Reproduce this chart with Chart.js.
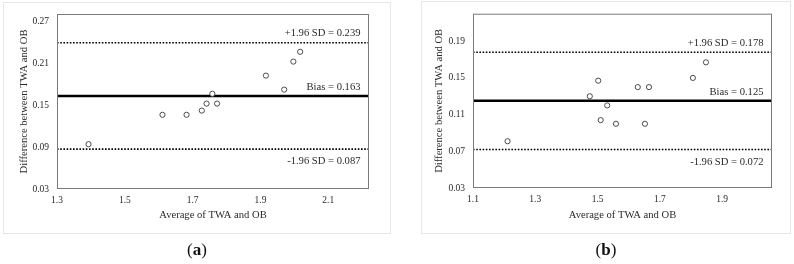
<!DOCTYPE html>
<html>
<head>
<meta charset="utf-8">
<script src="https://cdn.jsdelivr.net/npm/chart.js@4/dist/chart.umd.min.js"></script>
<style>
  html, body { margin: 0; padding: 0; background: #fff; }
  #wrap { position: relative; width: 794px; height: 264px; }
  .pane { position: absolute; top: 0; width: 397px; height: 264px; }
</style>
</head>
<body>
<div id="wrap">
  <div class="pane" style="left:0"><canvas id="ca"></canvas></div>
  <div class="pane" style="left:397px"><canvas id="cb"></canvas></div>
</div>
<script>
// ---- Panel (a) data ----
const avgA   = [1.393, 1.611, 1.682, 1.727, 1.741, 1.758, 1.772, 1.916, 1.970, 1.997, 2.017];
const diffA  = [0.094, 0.136, 0.136, 0.142, 0.152, 0.166, 0.152, 0.192, 0.172, 0.212, 0.226];
const limitsA = [0.239, 0.163, 0.087];           // +1.96 SD, bias, -1.96 SD
const xTicksA = [1.3, 1.5, 1.7, 1.9, 2.1];
const yTicksA = [0.03, 0.09, 0.15, 0.21, 0.27];
const xRangeA = [1.3, 2.22];
const yRangeA = [0.03, 0.28];

// ---- Panel (b) data ----
const avgB   = [1.211, 1.475, 1.502, 1.510, 1.531, 1.559, 1.629, 1.652, 1.665, 1.806, 1.848];
const diffB  = [0.081, 0.130, 0.147, 0.104, 0.120, 0.100, 0.140, 0.100, 0.140, 0.150, 0.167];
const limitsB = [0.178, 0.125, 0.072];
const xTicksB = [1.1, 1.3, 1.5, 1.7, 1.9];
const yTicksB = [0.03, 0.07, 0.11, 0.15, 0.19];
const xRangeB = [1.1, 2.06];
const yRangeB = [0.03, 0.22];

const limitNames = ['+1.96 SD', 'Bias', '-1.96 SD'];
const xTitle = 'Average of TWA and OB';
const yTitle = 'Difference between TWA and OB';

const SERIF = '"Liberation Serif", "DejaVu Serif", serif';
const TXT = '#2a2a2a';

function makeChart(id, cfg) {
  const pts = cfg.avg.map((x, i) => ({ x: x, y: cfg.diff[i] }));
  const lineDs = cfg.limits.map((v, i) => ({
    type: 'line',
    data: [{ x: cfg.xRange[0], y: v }, { x: cfg.xRange[1], y: v }],
    borderColor: '#000',
    borderWidth: i === 1 ? 2.5 : 1.6,
    borderDash: i === 1 ? [] : [1.6, 1.6],
    pointRadius: 0,
    fill: false,
    order: 2
  }));

  const framePlugin = {
    id: 'frame' + id,
    beforeDatasetsDraw(chart) {
      const ctx = chart.ctx, a = chart.chartArea;
      ctx.save();
      // outer panel frame
      ctx.strokeStyle = '#e6e6e6';
      ctx.lineWidth = 1;
      ctx.strokeRect(cfg.outer[0], cfg.outer[1], cfg.outer[2], cfg.outer[3]);
      ctx.restore();
    },
    afterDatasetsDraw(chart) {
      const ctx = chart.ctx, a = chart.chartArea;
      const xs = chart.scales.x, ys = chart.scales.y;
      ctx.save();
      // plot frame
      ctx.strokeStyle = '#7a7a7a';
      ctx.lineWidth = 1;
      ctx.strokeRect(a.left + 0.5, a.top + 0.5, a.right - a.left - 1, a.bottom - a.top - 1);
      // limit annotations
      ctx.fillStyle = TXT;
      ctx.font = '10.6px ' + SERIF;
      ctx.textAlign = 'right';
      ctx.textBaseline = 'middle';
      cfg.limits.forEach((v, i) => {
        const py = ys.getPixelForValue(v);
        const off = i === 2 ? 12.5 : -9;
        ctx.fillText(limitNames[i] + ' = ' + v.toFixed(3), a.right - 8.5, py + off);
      });
      // axis titles
      ctx.font = '10.6px ' + SERIF;
      ctx.textAlign = 'center';
      ctx.fillText(xTitle, (a.left + a.right) / 2, 215);
      ctx.save();
      ctx.translate(cfg.yTitleX, (a.top + a.bottom) / 2);
      ctx.rotate(-Math.PI / 2);
      ctx.fillText(yTitle, 0, 0);
      ctx.restore();
      // panel label
      ctx.fillStyle = '#111';
      ctx.font = '17px ' + SERIF;
      const cx = cfg.outer[0] + cfg.outer[2] / 2;
      const lbl = cfg.label;
      ctx.textAlign = 'left';
      const wl = ctx.measureText('(').width;
      ctx.font = 'bold 17px ' + SERIF;
      const wm = ctx.measureText(lbl).width;
      ctx.font = '17px ' + SERIF;
      const wr = ctx.measureText(')').width;
      let x0 = cx - (wl + wm + wr) / 2;
      ctx.fillText('(', x0, 251);
      ctx.font = 'bold 17px ' + SERIF;
      ctx.fillText(lbl, x0 + wl, 251);
      ctx.font = '17px ' + SERIF;
      ctx.fillText(')', x0 + wl + wm, 251);
      ctx.restore();
    }
  };

  return new Chart(document.getElementById(id), {
    type: 'scatter',
    data: {
      datasets: [{
        data: pts,
        pointRadius: 2.6,
        pointHoverRadius: 2.6,
        pointBackgroundColor: '#fff',
        pointBorderColor: '#3a3a3a',
        pointBorderWidth: 0.9,
        showLine: false,
        order: 1
      }].concat(lineDs)
    },
    options: {
      responsive: false,
      animation: false,
      devicePixelRatio: 1,
      layout: { padding: { left: 0, top: cfg.area.top, right: 397 - cfg.area.right, bottom: 0 } },
      plugins: { legend: { display: false }, tooltip: { enabled: false } },
      scales: {
        x: {
          type: 'linear',
          min: cfg.xRange[0], max: cfg.xRange[1],
          grid: { display: false, drawTicks: false },
          border: { display: false },
          afterBuildTicks: s => { s.ticks = cfg.xTicks.map(v => ({ value: v })); },
          afterFit: s => { s.height = 264 - cfg.area.bottom; },
          ticks: {
            padding: 6,
            color: TXT,
            font: { family: SERIF, size: 9.5 },
            callback: v => Number(v).toFixed(1),
            maxRotation: 0, autoSkip: false
          }
        },
        y: {
          type: 'linear',
          min: cfg.yRange[0], max: cfg.yRange[1],
          grid: { display: false, drawTicks: false },
          border: { display: false },
          afterBuildTicks: s => { s.ticks = cfg.yTicks.map(v => ({ value: v })); },
          afterFit: s => { s.width = cfg.area.left; },
          ticks: {
            padding: 8,
            color: TXT,
            font: { family: SERIF, size: 9.5 },
            callback: v => Number(v).toFixed(2),
            autoSkip: false
          }
        }
      }
    },
    plugins: [framePlugin]
  });
}

function sizeCanvas(id) {
  const c = document.getElementById(id);
  c.width = 397; c.height = 264;
  c.style.width = '397px'; c.style.height = '264px';
}
sizeCanvas('ca'); sizeCanvas('cb');

makeChart('ca', {
  avg: avgA, diff: diffA, limits: limitsA,
  xTicks: xTicksA, yTicks: yTicksA, xRange: xRangeA, yRange: yRangeA,
  area: { left: 57, top: 14, right: 369, bottom: 189 },
  outer: [3.5, 2.5, 387, 231], yTitleX: 24, label: 'a'
});
makeChart('cb', {
  avg: avgB, diff: diffB, limits: limitsB,
  xTicks: xTicksB, yTicks: yTicksB, xRange: xRangeB, yRange: yRangeB,
  area: { left: 76, top: 13, right: 375, bottom: 188 },
  outer: [24.5, 1.5, 369, 232], yTitleX: 42, label: 'b'
});
</script>
</body>
</html>
